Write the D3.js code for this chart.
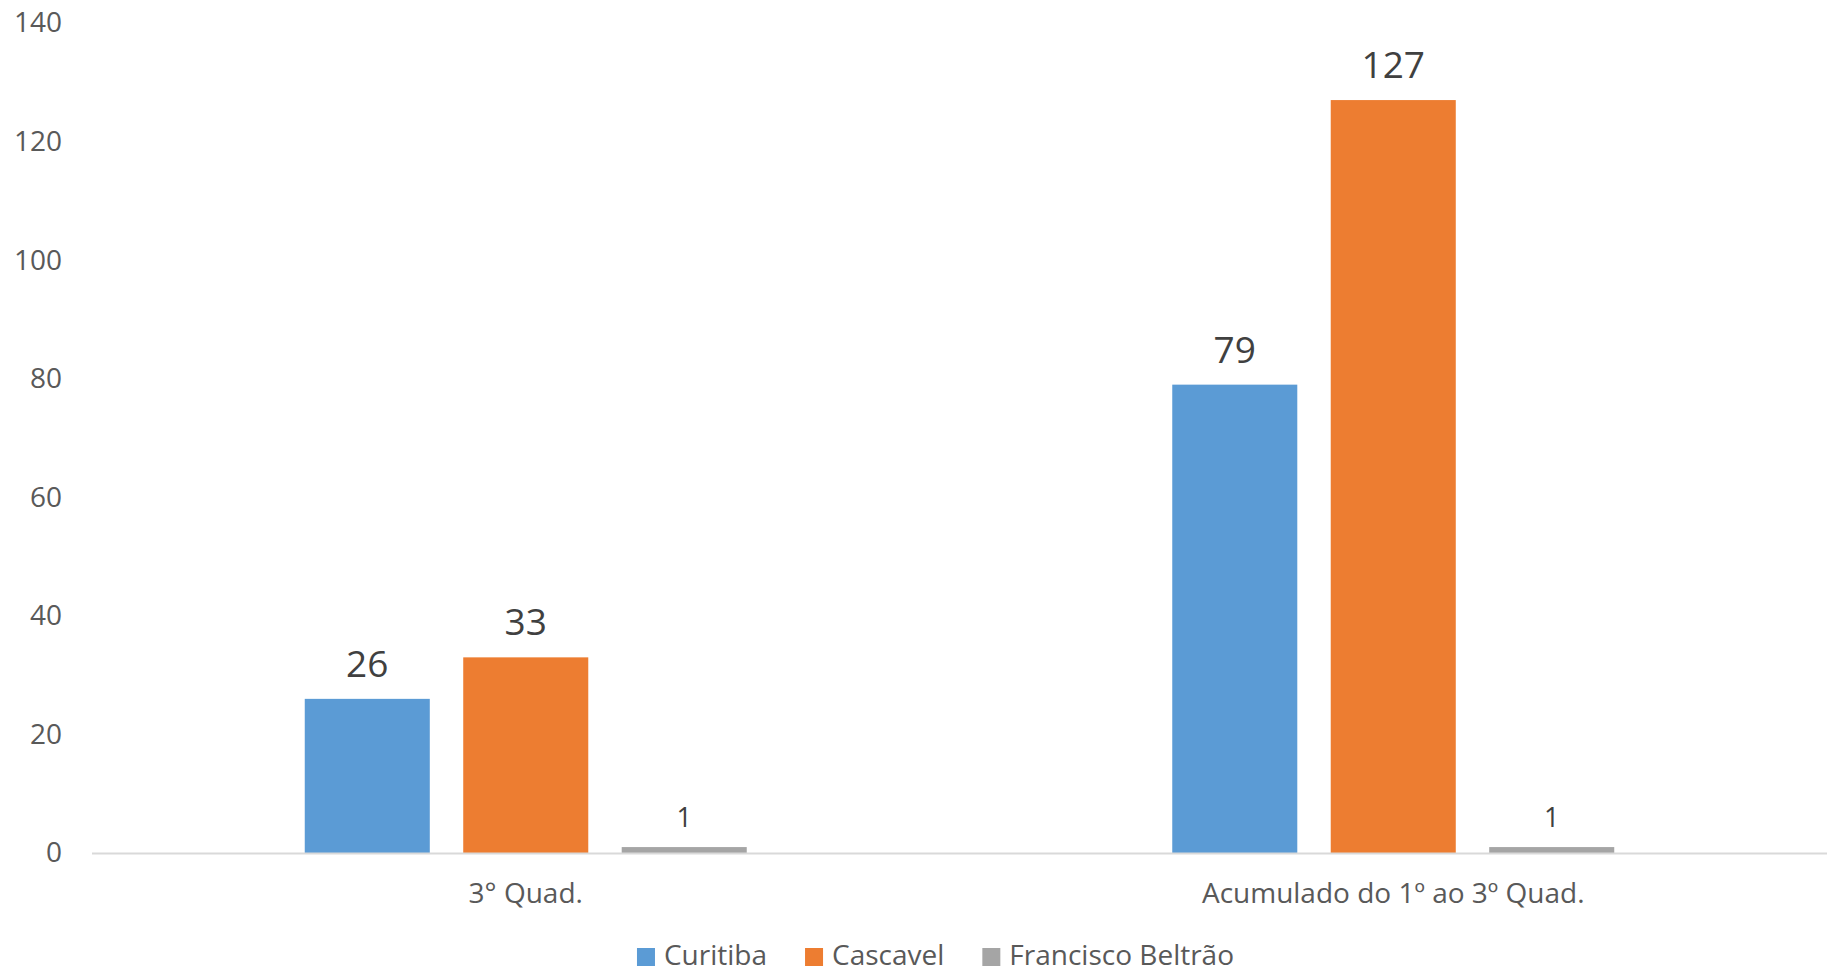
<!DOCTYPE html>
<html>
<head>
<meta charset="utf-8">
<script src="https://cdn.jsdelivr.net/npm/d3@7"></script>
<style>
  html, body { margin: 0; padding: 0; background: #ffffff; }
  svg { display: block; font-family: "Open Sans", "Noto Sans", sans-serif; }
</style>
</head>
<body>
<svg id="chart" width="1837" height="972"></svg>
<script>
// Categories and series
const categories = ["3° Quad.", "Acumulado do 1º ao 3º Quad."];
const seriesNames = ["Curitiba", "Cascavel", "Francisco Beltrão"];
const curitiba = [26, 79];
const cascavel = [33, 127];
const franciscoBeltrao = [1, 1];
const yTicks = [0, 20, 40, 60, 80, 100, 120, 140];

const seriesValues = [curitiba, cascavel, franciscoBeltrao];
const colors = ["#5B9BD5", "#ED7D31", "#A5A5A5"];

const svg = d3.select("#chart");
const plot = { left: 92, right: 1827, top: 23, bottom: 853 };

const x0 = d3.scaleBand()
  .domain(categories)
  .range([plot.left, plot.right])
  .paddingInner(0.4905)
  .paddingOuter(0.24525);

const x1 = d3.scaleBand()
  .domain(seriesNames)
  .range([0, x0.bandwidth()])
  .paddingInner(0.211)
  .paddingOuter(0);

const y = d3.scaleLinear()
  .domain([0, 140])
  .range([plot.bottom, plot.top]);

// Y axis labels (no gridlines, no axis line)
const yAxis = svg.append("g")
  .attr("transform", `translate(${plot.left},0)`)
  .call(d3.axisLeft(y).tickValues(yTicks).tickSize(0).tickPadding(30));
yAxis.select(".domain").remove();
yAxis.selectAll("text")
  .attr("fill", "#595959")
  .style("font-size", "28px")
  .style("font-family", "'Open Sans', sans-serif");

// Bars
const groups = svg.append("g")
  .selectAll("g")
  .data(categories)
  .join("g")
  .attr("transform", d => `translate(${x0(d)},0)`);

groups.selectAll("rect")
  .data((c, i) => seriesNames.map((s, k) => ({ s, k, v: seriesValues[k][i] })))
  .join("rect")
  .attr("x", d => x1(d.s))
  .attr("width", x1.bandwidth())
  .attr("y", d => y(d.v))
  .attr("height", d => y(0) - y(d.v))
  .attr("fill", d => colors[d.k]);

// Value labels
groups.selectAll("text.value")
  .data((c, i) => seriesNames.map((s, k) => ({ s, k, v: seriesValues[k][i] })))
  .join("text")
  .attr("class", "value")
  .attr("x", d => x1(d.s) + x1.bandwidth() / 2)
  .attr("y", d => y(d.v) - (d.k === 2 ? 20 : 22))
  .attr("text-anchor", "middle")
  .attr("fill", "#404040")
  .style("font-size", d => d.k === 2 ? "27px" : "37px")
  .text(d => d.v);

// Category axis
const xAxis = svg.append("g")
  .attr("transform", `translate(0,${plot.bottom})`)
  .call(d3.axisBottom(x0).tickSize(0).tickSizeOuter(0).tickPadding(30));
xAxis.select(".domain")
  .attr("stroke", "#D9D9D9")
  .attr("stroke-width", 2)
  .attr("d", `M${plot.left},0.5H${plot.right}`);
xAxis.selectAll("text")
  .attr("fill", "#595959")
  .style("font-size", "28px")
  .style("font-family", "'Open Sans', sans-serif");

// Legend
const legend = svg.append("g").attr("transform", "translate(0,965)");
const items = legend.selectAll("g")
  .data(seriesNames)
  .join("g");
items.append("rect")
  .attr("y", -17)
  .attr("width", 18)
  .attr("height", 18)
  .attr("fill", (d, i) => colors[i]);
items.append("text")
  .attr("x", 27)
  .attr("fill", "#595959")
  .style("font-size", "28px")
  .text(d => d);

const itemGap = 38;
let cursor = 0;
const offsets = [];
items.each(function () {
  offsets.push(cursor);
  const w = d3.select(this).select("text").node().getComputedTextLength();
  cursor += 27 + w + itemGap;
});
const totalWidth = cursor - itemGap;
const legendStart = 935.5 - totalWidth / 2;
items.attr("transform", (d, i) => `translate(${legendStart + offsets[i]},0)`);
</script>
</body>
</html>
